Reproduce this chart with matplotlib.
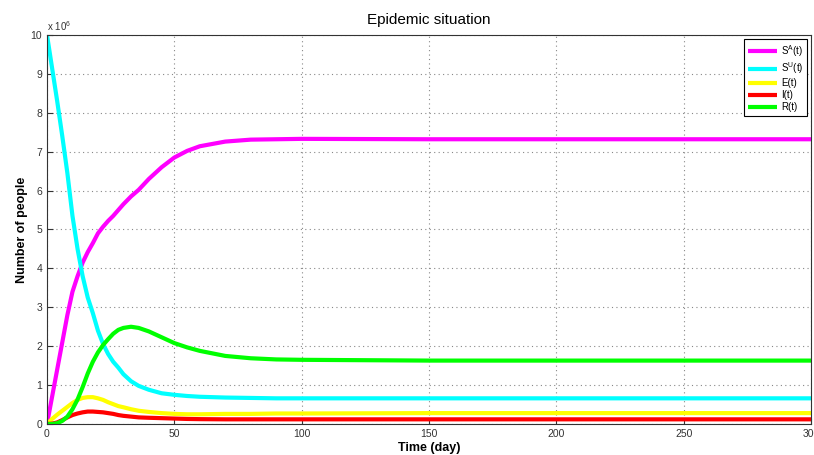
import matplotlib
matplotlib.use("Agg")
import matplotlib.pyplot as plt
import numpy as np

plt.rcParams['font.family'] = ['Liberation Sans', 'DejaVu Sans']

# time points (days)
t = [0, 2, 4, 6, 8, 10, 12, 14, 16, 18, 20, 22, 24, 26, 28, 30, 33, 36, 40, 45,
     50, 55, 60, 70, 80, 90, 100, 150, 200, 250, 300]

# values in millions of people
S_A = [0, 0.7, 1.4, 2.1, 2.8, 3.4, 3.8, 4.15, 4.42, 4.65, 4.9, 5.07, 5.22, 5.35, 5.5, 5.65,
       5.85, 6.02, 6.3, 6.6, 6.85, 7.02, 7.14, 7.26, 7.31, 7.32, 7.33, 7.32, 7.32, 7.32, 7.32]
S_U = [10, 9.15, 8.3, 7.4, 6.45, 5.35, 4.5, 3.8, 3.25, 2.85, 2.4, 2.06, 1.8, 1.6, 1.45, 1.28,
       1.1, 0.98, 0.88, 0.79, 0.75, 0.72, 0.7, 0.68, 0.67, 0.66, 0.66, 0.66, 0.66, 0.66, 0.66]
E = [0, 0.13, 0.24, 0.34, 0.44, 0.54, 0.62, 0.67, 0.69, 0.69, 0.66, 0.62, 0.56, 0.51, 0.46, 0.43,
     0.38, 0.34, 0.31, 0.28, 0.26, 0.25, 0.25, 0.26, 0.26, 0.27, 0.27, 0.28, 0.28, 0.28, 0.28]
I = [0, 0.01, 0.04, 0.1, 0.17, 0.23, 0.27, 0.3, 0.32, 0.32, 0.31, 0.3, 0.28, 0.26, 0.23, 0.21,
     0.19, 0.17, 0.16, 0.15, 0.14, 0.13, 0.125, 0.12, 0.12, 0.12, 0.12, 0.12, 0.12, 0.12, 0.12]
R = [0, 0.0, 0.02, 0.08, 0.19, 0.38, 0.63, 0.95, 1.3, 1.6, 1.84, 2.03, 2.18, 2.32, 2.42, 2.47,
     2.5, 2.47, 2.38, 2.23, 2.08, 1.97, 1.88, 1.75, 1.69, 1.66, 1.65, 1.63, 1.63, 1.63, 1.63]

labels = ['S$^{\\mathregular{A}}$(t)', 'S$^{\\mathregular{U}}$(t)', 'E(t)', 'I(t)', 'R(t)']
colors = ['#ff00ff', '#00ffff', '#ffff00', '#ff0000', '#00ff00']
series = [S_A, S_U, E, I, R]

fig = plt.figure(figsize=(8.14, 4.55), dpi=100)
ax = fig.add_axes([47/814, 31/455, 764/814, 389/455])

for y, c, lab in zip(series, colors, labels):
    ax.plot(t, y, color=c, lw=3.0, label=lab, solid_capstyle='butt')

ax.set_xlim(0, 300)
ax.set_ylim(0, 10)
ax.set_xticks(np.arange(0, 301, 50))
ax.set_yticks(np.arange(0, 11, 1))
ax.grid(True, linestyle=(0, (1, 3)), color='#888888', linewidth=0.8)
ax.tick_params(direction='in', labelsize=7.5, colors='#333333', length=4)
for sp in ax.spines.values():
    sp.set_color('#333333')

ax.set_title('Epidemic situation', fontsize=11, pad=8)
ax.set_xlabel('Time (day)', fontsize=9, fontweight='bold', labelpad=2)
ax.set_ylabel('Number of people', fontsize=9, fontweight='bold', labelpad=2)
ax.text(0.0, 1.005, 'x 10$^{\\mathregular{6}}$', transform=ax.transAxes, fontsize=7,
        ha='left', va='bottom', color='#333333')

leg = ax.legend(loc='upper right', fontsize=7, handlelength=3.0, fancybox=False,
                edgecolor='black', framealpha=1, borderaxespad=0.4, labelspacing=0.2,
                handletextpad=0.4, borderpad=0.4)
leg.get_frame().set_linewidth(0.8)

fig.savefig('out.png', dpi=100)
